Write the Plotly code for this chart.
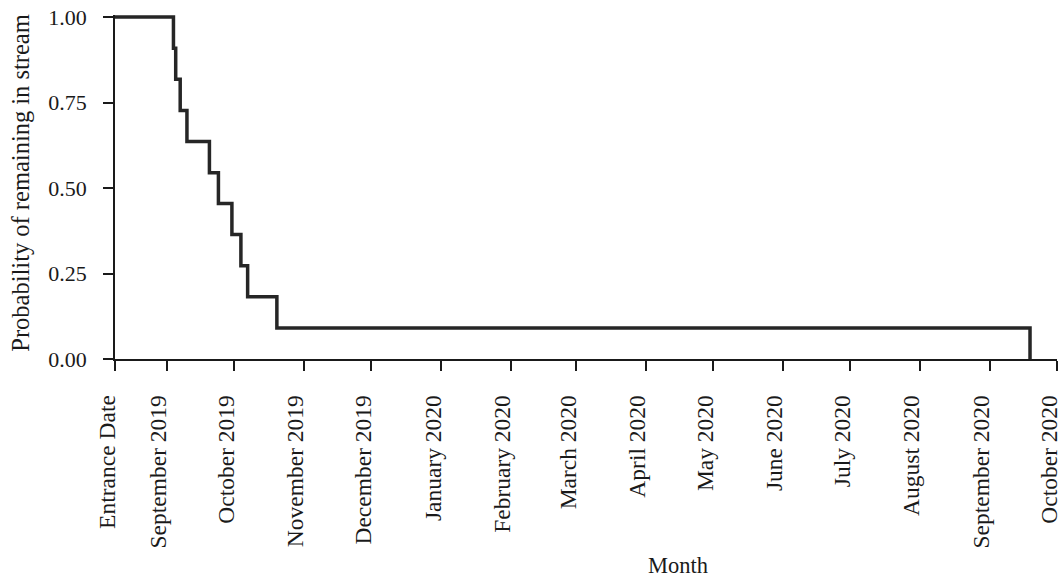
import plotly.graph_objects as go

# Kaplan-Meier style survival steps
event_dates = ["2019-08-09", "2019-09-04", "2019-09-05", "2019-09-07", "2019-09-10",
               "2019-09-20", "2019-09-24", "2019-09-30", "2019-10-04", "2019-10-07",
               "2019-10-20", "2020-09-19"]
survival = [1.0, 0.909, 0.818, 0.727, 0.636, 0.545, 0.455, 0.364, 0.273, 0.182, 0.091, 0.0]

tick_dates = ["2019-08-09", "2019-09-01", "2019-10-01", "2019-11-01", "2019-12-01",
              "2020-01-01", "2020-02-01", "2020-03-01", "2020-04-01", "2020-05-01",
              "2020-06-01", "2020-07-01", "2020-08-01", "2020-09-01", "2020-10-01"]
tick_labels = ["Entrance Date", "September 2019", "October 2019", "November 2019",
               "December 2019", "January 2020", "February 2020", "March 2020",
               "April 2020", "May 2020", "June 2020", "July 2020", "August 2020",
               "September 2020", "October 2020"]
y_ticks = [0.0, 0.25, 0.50, 0.75, 1.00]
y_tick_labels = ["0.00", "0.25", "0.50", "0.75", "1.00"]

FONT = "Liberation Serif, Times New Roman, serif"
INK = "#1a1a1a"

fig = go.Figure()
fig.add_trace(go.Scatter(
    x=event_dates, y=survival, mode="lines",
    line=dict(shape="hv", color="#262626", width=3.5),
    showlegend=False, hoverinfo="skip"))

fig.update_layout(
    width=1062, height=579,
    margin=dict(l=115, r=5, t=15, b=220, autoexpand=False),
    paper_bgcolor="white", plot_bgcolor="white",
    font=dict(family=FONT, size=22, color=INK),
    xaxis=dict(
        type="date", range=["2019-08-09", "2020-10-01"], automargin=False,
        tickmode="array", tickvals=tick_dates, ticktext=tick_labels,
        tickangle=-90, ticks="outside", ticklen=10, tickwidth=1.5, tickcolor=INK,
        ticklabelshift=-8, ticklabelstandoff=15,
        showline=True, linecolor=INK, linewidth=1.5,
        showgrid=False, zeroline=False,
        tickfont=dict(family=FONT, size=23.5, color=INK)),
    yaxis=dict(
        range=[0.0, 1.006], automargin=False,
        tickmode="array", tickvals=y_ticks, ticktext=y_tick_labels,
        ticks="outside", ticklen=10, tickwidth=1.5, tickcolor=INK,
        ticklabelstandoff=12,
        showline=True, linecolor=INK, linewidth=1.5,
        showgrid=False, zeroline=False,
        tickfont=dict(family=FONT, size=22, color=INK)),
)

fig.add_annotation(
    text="Probability of remaining in stream", textangle=-90,
    xref="paper", yref="paper", x=-0.0998, y=0.5125,
    xanchor="center", yanchor="middle", showarrow=False,
    font=dict(family=FONT, size=24.5, color=INK))

fig.add_annotation(
    text="Month", xref="paper", yref="paper", x=0.598, y=-0.599,
    xanchor="center", yanchor="middle", showarrow=False,
    font=dict(family=FONT, size=22.5, color=INK))

fig.write_html(
    "out.html",
    config={"displayModeBar": False},
    post_script="document.body.style.margin='0';document.body.style.overflow='hidden';")
